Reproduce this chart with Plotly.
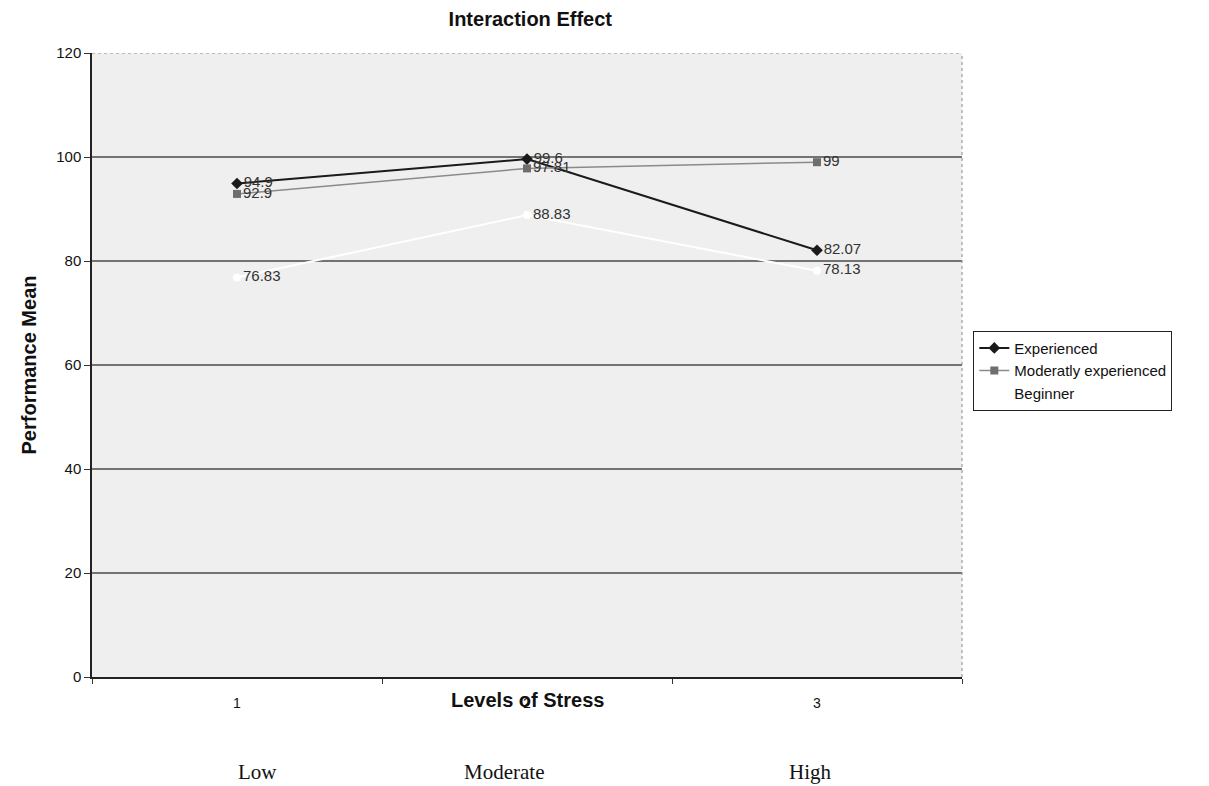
import plotly.graph_objects as go

stress_levels = [1, 2, 3]
tick_labels = ["1", "2", "3"]
experienced = [94.9, 99.6, 82.07]
moderately = [92.9, 97.81, 99.0]
beginner = [76.83, 88.83, 78.13]
level_names = ["Low", "Moderate", "High"]
y_ticks = [0, 20, 40, 60, 80, 100, 120]

fig = go.Figure()

def fmt(v):
    return ("%g" % v)

label_font = dict(family="Arial, Liberation Sans", size=15, color="#333")

fig.add_trace(go.Scatter(
    x=stress_levels, y=experienced, name="Experienced",
    mode="lines+markers+text",
    line=dict(color="#1a1a1a", width=2),
    marker=dict(symbol="diamond", size=9, color="#1a1a1a"),
    text=[fmt(v) for v in experienced], textposition="middle right",
    textfont=label_font,
))
fig.add_trace(go.Scatter(
    x=stress_levels, y=moderately, name="Moderatly experienced",
    mode="lines+markers+text",
    line=dict(color="#8a8a8a", width=1.5),
    marker=dict(symbol="square", size=8, color="#6e6e6e"),
    text=[fmt(v) for v in moderately], textposition="middle right",
    textfont=label_font,
))
fig.add_trace(go.Scatter(
    x=stress_levels, y=beginner, name="Beginner",
    mode="lines+markers+text",
    line=dict(color="#ffffff", width=2),
    marker=dict(symbol="circle", size=8, color="#ffffff"),
    text=[fmt(v) for v in beginner], textposition="middle right",
    textfont=label_font,
))

shapes = []
for v in y_ticks[1:-1]:
    shapes.append(dict(type="line", xref="paper", yref="y", x0=0, x1=1, y0=v, y1=v,
                       line=dict(color="#4a4a4a", width=1.3), layer="below"))
shapes.append(dict(type="line", xref="paper", yref="y", x0=0, x1=1, y0=y_ticks[-1], y1=y_ticks[-1],
                   line=dict(color="#888", width=1, dash="dot"), layer="below"))
shapes.append(dict(type="line", xref="paper", yref="paper", x0=1, x1=1, y0=0, y1=1,
                   line=dict(color="#888", width=1, dash="dot"), layer="below"))

annotations = []
for i, name in enumerate(level_names):
    annotations.append(dict(
        x=[0.19, 0.473, 0.826][i], y=-0.152, xref="paper", yref="paper",
        xanchor="center", yanchor="middle",
        text=name, showarrow=False,
        font=dict(family="Liberation Serif, Times New Roman, serif", size=21, color="#111"),
    ))
annotations.append(dict(
    x=2, y=-0.037, xref="x", yref="paper", xanchor="center", yanchor="middle",
    text="<b>Levels of Stress</b>",
    showarrow=False, font=dict(family="Arial, Liberation Sans", size=20, color="#111"),
))

fig.update_layout(
    width=1209, height=786,
    paper_bgcolor="white", plot_bgcolor="#efefef",
    margin=dict(l=84, r=255, t=45, b=117),
    title=dict(text="<b>Interaction Effect</b>", x=0.432, xanchor="center", y=0.995, yanchor="top",
               font=dict(family="Arial, Liberation Sans", size=20, color="#111")),
    showlegend=True,
    legend=dict(x=1.013, xanchor="left", y=0.555, yanchor="top",
                bordercolor="#222", borderwidth=1, bgcolor="white",
                font=dict(family="Arial, Liberation Sans", size=15, color="#111"),
                tracegroupgap=0),
    shapes=shapes,
    annotations=annotations,
    xaxis=dict(range=[0.5, 3.5], tickvals=stress_levels, ticktext=tick_labels,
               showgrid=False, zeroline=False, showline=True, linecolor="#222", linewidth=1.5,
               ticks="", ticklabelstandoff=12,
               tickfont=dict(family="Arial, Liberation Sans", size=14, color="#111"),
               minor=dict(tick0=0.5, dtick=1, ticks="outside", ticklen=5, tickcolor="#333", showgrid=False)),
    yaxis=dict(range=[0, 120], tickvals=y_ticks, showgrid=False, zeroline=False,
               showline=True, linecolor="#222", linewidth=1.5,
               ticks="outside", ticklen=6, tickcolor="#333",
               tickfont=dict(family="Arial, Liberation Sans", size=15, color="#111"),
               title=dict(text="<b>Performance Mean</b>", standoff=14,
                          font=dict(family="Arial, Liberation Sans", size=20, color="#111"))),
)

fig.write_html("out.html")
